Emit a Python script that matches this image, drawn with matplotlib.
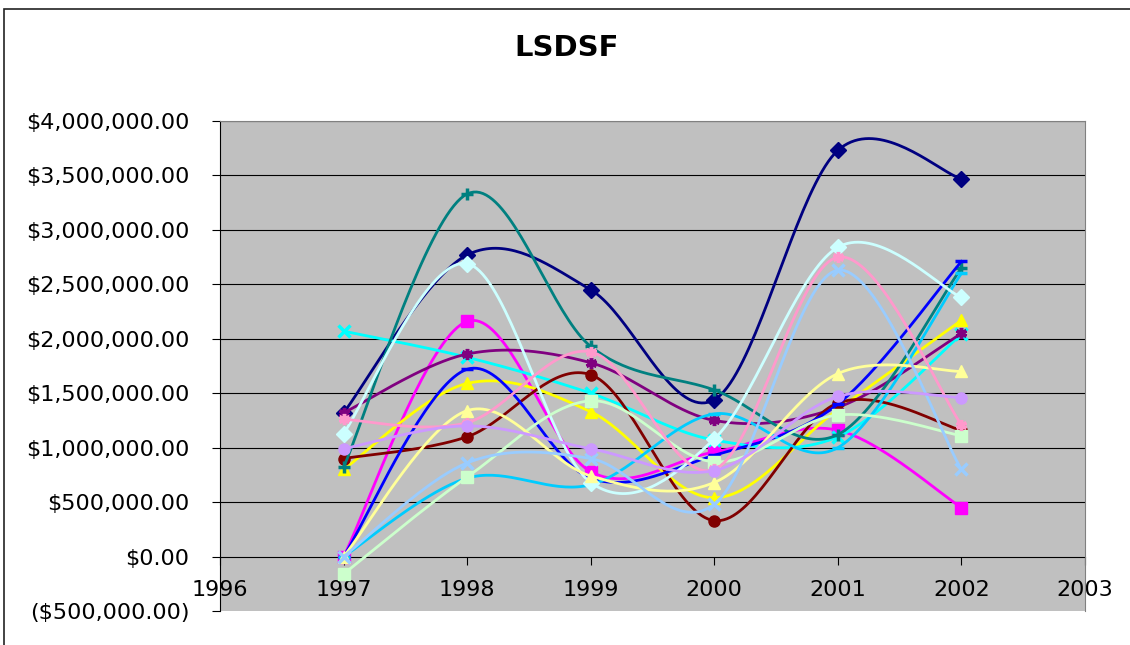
import numpy as np
import matplotlib.pyplot as plt
from matplotlib.patches import Rectangle
from matplotlib.ticker import FuncFormatter

years = [1997, 1998, 1999, 2000, 2001, 2002]

navy = [1.32, 2.77, 2.45, 1.44, 3.73, 3.47]
magenta = [0.0, 2.16, 0.78, 0.96, 1.16, 0.45]
yellow = [0.80, 1.59, 1.33, 0.54, 1.35, 2.17]
cyan = [2.07, 1.83, 1.50, 1.07, 1.10, 2.04]
purple = [1.32, 1.86, 1.78, 1.25, 1.37, 2.05]
dark_red = [0.90, 1.10, 1.67, 0.33, 1.41, 1.16]
teal = [0.82, 3.33, 1.93, 1.53, 1.12, 2.65]
blue = [0.0, 1.72, 0.72, 0.93, 1.40, 2.71]
sky_blue = [0.0, 0.72, 0.66, 1.31, 1.00, 2.60]
light_turquoise = [1.13, 2.69, 0.68, 1.08, 2.84, 2.38]
light_green = [-0.16, 0.73, 1.43, 0.87, 1.30, 1.11]
light_yellow = [0.0, 1.34, 0.74, 0.68, 1.68, 1.70]
pale_blue = [0.0, 0.86, 0.90, 0.48, 2.63, 0.80]
rose = [1.26, 1.23, 1.88, 0.80, 2.75, 1.21]
lavender = [0.99, 1.20, 0.99, 0.79, 1.47, 1.46]

star = (6, 2, 0)
series = [
    (navy, "#000080", "D"),
    (magenta, "#FF00FF", "s"),
    (yellow, "#FFFF00", "^"),
    (cyan, "#00FFFF", "x"),
    (purple, "#800080", star),
    (dark_red, "#800000", "o"),
    (teal, "#008080", "+"),
    (blue, "#0000FF", "_"),
    (sky_blue, "#00CCFF", "_"),
    (light_turquoise, "#CCFFFF", "D"),
    (light_green, "#CCFFCC", "s"),
    (light_yellow, "#FFFF99", "^"),
    (pale_blue, "#99CCFF", "x"),
    (rose, "#FF99CC", star),
    (lavender, "#CC99FF", "o"),
]


def smooth(x, y, n=40):
    # catmull-rom through the points, like excel's smoothed line
    x = np.asarray(x, float)
    y = np.asarray(y, float)
    px = np.concatenate([[x[0]], x, [x[-1]]])
    py = np.concatenate([[y[0]], y, [y[-1]]])
    t = np.linspace(0, 1, n)
    xs, ys = [], []
    for i in range(1, len(px) - 2):
        b0x, b0y = px[i], py[i]
        b3x, b3y = px[i + 1], py[i + 1]
        b1x = b0x + (px[i + 1] - px[i - 1]) / 6
        b1y = b0y + (py[i + 1] - py[i - 1]) / 6
        b2x = b3x - (px[i + 2] - px[i]) / 6
        b2y = b3y - (py[i + 2] - py[i]) / 6
        a = (1 - t) ** 3
        b = 3 * (1 - t) ** 2 * t
        c = 3 * (1 - t) * t ** 2
        d = t ** 3
        xs.append(a * b0x + b * b1x + c * b2x + d * b3x)
        ys.append(a * b0y + b * b1y + c * b2y + d * b3y)
    return np.concatenate(xs), np.concatenate(ys)


def money(v, pos):
    if v < 0:
        return "(${:,.2f})".format(-v)
    return "${:,.2f}".format(v)


fig = plt.figure(figsize=(11.3, 6.45), dpi=100)
fig.patches.append(Rectangle((4 / 1130, -0.1), 1.2, 1 - 9 / 645 + 0.1,
                             transform=fig.transFigure, fill=False,
                             edgecolor="#222222", linewidth=1.2))

ax = fig.add_axes([220 / 1130, 1 - 611 / 645, 865 / 1130, 490 / 645])
ax.set_facecolor("#C0C0C0")

for g in np.arange(0.5e6, 4.01e6, 0.5e6):
    ax.axhline(g, color="black", linewidth=0.8, zorder=1)

for vals, color, marker in series:
    v = np.array(vals) * 1e6
    sx, sy = smooth(years, v)
    ax.plot(sx, sy, color=color, linewidth=2, zorder=3)
    mew = 2.5 if marker in ("x", "+", "_") or marker == star else 1
    ax.plot(years, v, linestyle="none", marker=marker, color=color,
            markersize=8, markeredgewidth=mew, zorder=3)

ax.set_xlim(1996, 2003)
ax.set_ylim(-0.5e6, 4e6)
ax.set_xticks(range(1996, 2004))
ax.set_yticks(np.arange(-0.5e6, 4.01e6, 0.5e6))
ax.yaxis.set_major_formatter(FuncFormatter(money))

ax.spines["bottom"].set_position(("data", 0))
ax.spines["bottom"].set_zorder(2)
ax.spines["left"].set_color("black")
ax.spines["top"].set_color("#808080")
ax.spines["right"].set_color("#808080")
ax.tick_params(axis="x", direction="out", length=6, pad=11, labelsize=16)
ax.tick_params(axis="y", direction="out", length=6, pad=16, labelsize=16)

fig.text(567 / 1130, 1 - 48 / 645, "LSDSF", ha="center", va="center",
         fontsize=21, fontweight="bold")

plt.savefig("out.png", dpi=100)
